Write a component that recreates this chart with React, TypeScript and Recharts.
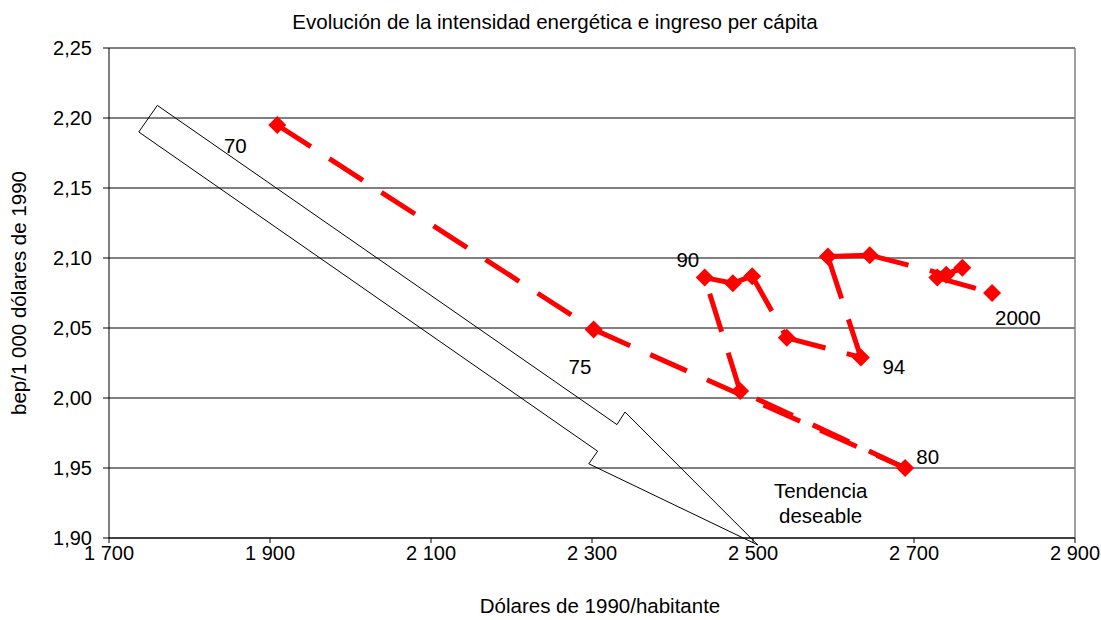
import React from 'react';
import {
  ComposedChart,
  Line,
  XAxis,
  YAxis,
  CartesianGrid,
  ReferenceLine,
  ReferenceDot,
} from 'recharts';

// Series: one point per year, drawn in time order
const years = ['1970', '1975', '1980', '1985', '1990', '1991', '1992', '1993', '1994', '1995', '1996', '1997', '1998', '1999', '2000'];
const incomePerCapita = [1909, 2302, 2689, 2484, 2440, 2475, 2499, 2542, 2634, 2593, 2645, 2740, 2760, 2729, 2797];
const energyIntensity = [2.195, 2.049, 1.95, 2.005, 2.086, 2.082, 2.087, 2.043, 2.029, 2.101, 2.102, 2.088, 2.093, 2.086, 2.075];

// Axis ticks
const xTicks = [1700, 1900, 2100, 2300, 2500, 2700, 2900];
const yTicks = [1.9, 1.95, 2.0, 2.05, 2.1, 2.15, 2.2, 2.25];

// Year labels placed next to points (data coordinates)
const yearLabelText = ['70', '75', '80', '90', '94', '2000'];
const yearLabelX = [1857, 2285, 2717, 2419, 2675, 2829];
const yearLabelY = [2.18, 2.022, 1.958, 2.099, 2.022, 2.057];

// "Tendencia deseable" arrow outline (data coordinates)
const arrowX = [1760, 2331, 2341, 2506, 2296, 2307, 1737];
const arrowY = [2.209, 1.981, 1.99, 1.895, 1.953, 1.962, 2.19];

const noteLines = ['Tendencia', 'deseable'];
const noteX = 2584;
const noteY = [1.934, 1.916];

const data = years.map((year, i) => ({
  year,
  x: incomePerCapita[i],
  y: energyIntensity[i],
}));

// each year-to-year step is its own dashed stroke (dash restarts at every point)
const steps = data.slice(0, -1).map((d, i) => [d, data[i + 1]]);

const arrowSegments = arrowX.map((x, i) => {
  const j = (i + 1) % arrowX.length;
  return [
    { x, y: arrowY[i] },
    { x: arrowX[j], y: arrowY[j] },
  ];
});

const fmtX = (v: number) => String(v).replace(/\B(?=(\d{3})+(?!\d))/g, ' ');
const fmtY = (v: number) => v.toFixed(2).replace('.', ',');

const Diamond = (props: any) => {
  const { cx, cy, index } = props;
  const s = 9;
  return (
    <polygon
      key={`d-${index}`}
      points={`${cx},${cy - s} ${cx + s},${cy} ${cx},${cy + s} ${cx - s},${cy}`}
      fill="#FF0000"
    />
  );
};

const TICK_FONT = 20;
const TEXT_FONT = 20.5;

export default function App() {
  return (
    <div
      style={{
        position: 'absolute',
        left: 0,
        top: 0,
        width: 1101,
        height: 620,
        background: '#fff',
        fontFamily: '"Liberation Sans", Arial, sans-serif',
      }}
    >
      <div
        style={{
          position: 'absolute',
          top: 10,
          left: 0,
          width: 1110,
          textAlign: 'center',
          fontSize: TEXT_FONT,
          color: '#000',
        }}
      >
        Evolución de la intensidad energética e ingreso per cápita
      </div>
      <ComposedChart
        width={1101}
        height={620}
        data={data}
        margin={{ top: 48, right: 26, bottom: 0, left: 0 }}
      >
        <CartesianGrid vertical={false} stroke="#000" strokeWidth={1} />
        <XAxis
          type="number"
          dataKey="x"
          domain={[1700, 2900]}
          ticks={xTicks}
          tickFormatter={fmtX}
          height={82}
          tickSize={5}
          tickMargin={3}
          stroke="#000"
          tick={{ fill: '#000', fontSize: TICK_FONT }}
          label={{
            value: 'Dólares de 1990/habitante',
            position: 'center',
            dx: 8,
            dy: 27,
            fill: '#000',
            fontSize: TEXT_FONT,
          }}
        />
        <YAxis
          type="number"
          dataKey="y"
          domain={[1.9, 2.25]}
          ticks={yTicks}
          tickFormatter={fmtY}
          width={109}
          tickSize={6}
          tickMargin={11}
          stroke="#000"
          tick={{ fill: '#000', fontSize: TICK_FONT }}
          label={{
            value: 'bep/1 000 dólares de 1990',
            position: 'center',
            angle: -90,
            dx: -36,
            fill: '#000',
            fontSize: TEXT_FONT,
          }}
        />
        <ReferenceLine x={2900} stroke="#808080" strokeWidth={1.5} />
        {arrowSegments.map((seg, i) => (
          <ReferenceLine
            key={`a-${i}`}
            segment={seg}
            stroke="#000"
            strokeWidth={1}
            ifOverflow="visible"
          />
        ))}
        {steps.map((seg, i) => (
          <Line
            key={`s-${i}`}
            data={seg}
            type="linear"
            dataKey="y"
            stroke="#FF0000"
            strokeWidth={5}
            strokeDasharray="40 22"
            dot={false}
            activeDot={false}
            isAnimationActive={false}
          />
        ))}
        <Line
          data={data}
          type="linear"
          dataKey="y"
          stroke="none"
          dot={Diamond}
          activeDot={false}
          isAnimationActive={false}
        />
        {yearLabelText.map((t, i) => (
          <ReferenceDot
            key={`l-${i}`}
            x={yearLabelX[i]}
            y={yearLabelY[i]}
            r={0}
            stroke="none"
            fill="none"
            label={{ value: t, position: 'center', fill: '#000', fontSize: TEXT_FONT }}
          />
        ))}
        {noteLines.map((t, i) => (
          <ReferenceDot
            key={`n-${i}`}
            x={noteX}
            y={noteY[i]}
            r={0}
            stroke="none"
            fill="none"
            label={{ value: t, position: 'center', fill: '#000', fontSize: TEXT_FONT }}
          />
        ))}
      </ComposedChart>
    </div>
  );
}
